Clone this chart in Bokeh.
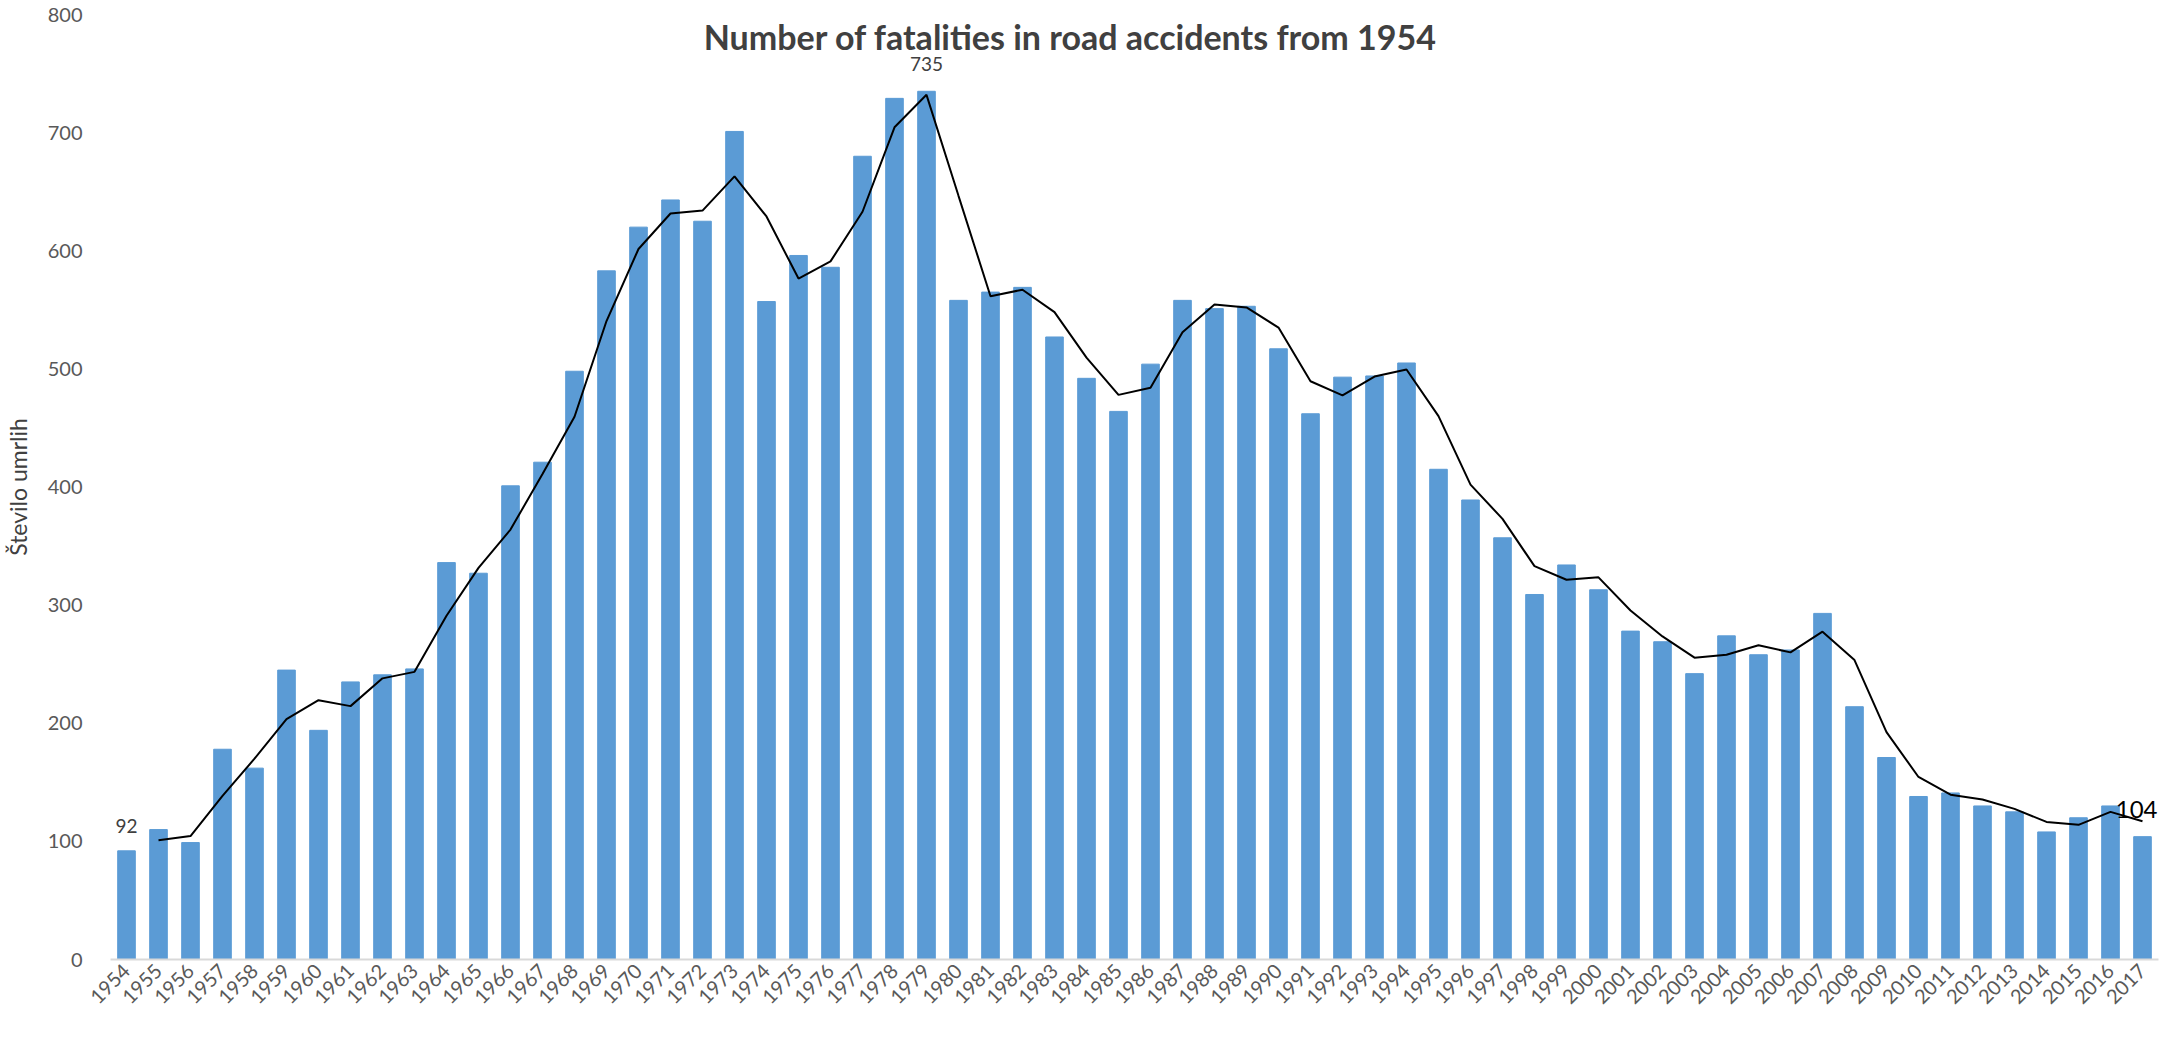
import math
from bokeh.plotting import figure
from bokeh.models import Range1d, FixedTicker, Label
from bokeh.embed import file_html
from bokeh.resources import INLINE

years = list(range(1954, 2018))
deaths = [92, 110, 99, 178, 162, 245, 194, 235, 241, 246,
          336, 327, 401, 421, 498, 583, 620, 643, 625, 701,
          557, 596, 586, 680, 729, 735, 558, 565, 569, 527,
          492, 464, 504, 558, 551, 553, 517, 462, 493, 494,
          505, 415, 389, 357, 309, 334, 313, 278, 269, 242,
          274, 258, 262, 293, 214, 171, 138, 141, 130, 125,
          108, 120, 130, 104]

# moving-average trend line (2 periods)
trend_years = list(range(1955, 2018))
trend = [101.0, 104.5, 138.5, 170.0, 203.5, 219.5, 214.5, 238.0, 243.5,
         291.0, 331.5, 364.0, 411.0, 459.5, 540.5, 601.5, 631.5, 634.0, 663.0,
         629.0, 576.5, 591.0, 633.0, 704.5, 732.0, 646.5, 561.5, 567.0, 548.0,
         509.5, 478.0, 484.0, 531.0, 554.5, 552.0, 535.0, 489.5, 477.5, 493.5,
         499.5, 460.0, 402.0, 373.0, 333.0, 321.5, 323.5, 295.5, 273.5, 255.5,
         258.0, 266.0, 260.0, 277.5, 253.5, 192.5, 154.5, 139.5, 135.5, 127.5,
         116.5, 114.0, 125.0, 117.0]

y_ticks = [0, 100, 200, 300, 400, 500, 600, 700, 800]
title_text = "Number of fatalities in road accidents from 1954"
y_title = "Število umrlih"

FONT = "Lato"

p = figure(width=2159, height=1022, output_backend="svg", toolbar_location=None,
           x_range=Range1d(1953.5, 2017.5), y_range=Range1d(0, 800),
           min_border_left=99, min_border_right=1, min_border_top=14,
           min_border_bottom=63)

p.vbar(x=years, top=deaths, width=0.55, fill_color="#5B9BD5", line_color="#5B9BD5")
p.line(trend_years, trend, line_color="black", line_width=2)

p.xgrid.visible = False
p.ygrid.visible = False
p.outline_line_color = None

xa = p.xaxis[0]
xa.ticker = FixedTicker(ticks=years)
xa.major_label_orientation = math.pi / 4
xa.axis_line_color = "#D9D9D9"
xa.axis_line_width = 2
xa.major_tick_line_color = None
xa.minor_tick_line_color = None
xa.major_label_text_font = FONT
xa.major_label_text_font_size = "20px"
xa.major_label_text_color = "#595959"
xa.major_label_standoff = 2

ya = p.yaxis[0]
ya.ticker = FixedTicker(ticks=y_ticks)
ya.axis_line_color = None
ya.major_tick_line_color = None
ya.minor_tick_line_color = None
ya.major_label_text_font = FONT
ya.major_label_text_font_size = "20px"
ya.major_label_text_color = "#595959"
ya.major_label_standoff = 22
ya.axis_label = y_title
ya.axis_label_text_font = FONT
ya.axis_label_text_font_size = "23px"
ya.axis_label_text_font_style = "normal"
ya.axis_label_text_color = "#404040"
ya.axis_label_standoff = 13

p.add_layout(Label(x=1983.5, y=781, text=title_text, text_font=FONT,
                   text_font_size="34px", text_font_style="bold",
                   text_color="#404040", text_align="center", text_baseline="middle"))

p.add_layout(Label(x=years[0], y=deaths[0], y_offset=25, text=str(deaths[0]),
                   text_font=FONT, text_font_size="19px", text_color="#404040",
                   text_align="center", text_baseline="middle"))
imax = deaths.index(max(deaths))
p.add_layout(Label(x=years[imax], y=deaths[imax], y_offset=27, text=str(deaths[imax]),
                   text_font=FONT, text_font_size="19px", text_color="#404040",
                   text_align="center", text_baseline="middle"))
p.add_layout(Label(x=years[-1], y=deaths[-1], y_offset=27, x_offset=15, text=str(deaths[-1]),
                   text_font=FONT, text_font_size="24px", text_color="black",
                   text_align="right", text_baseline="middle"))

open("out.html", "w").write(file_html(p, INLINE))
